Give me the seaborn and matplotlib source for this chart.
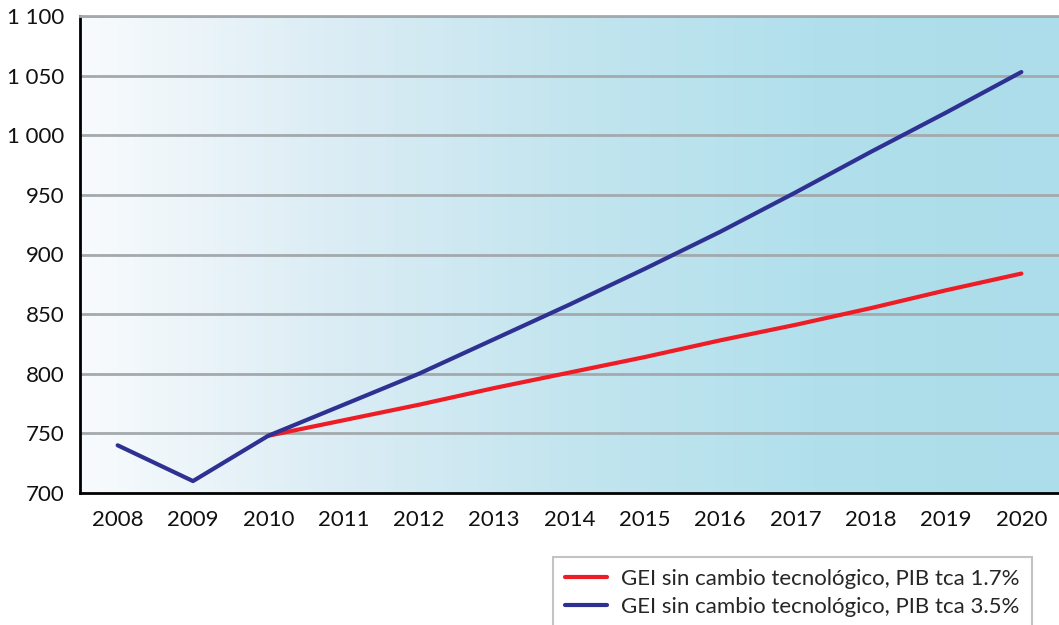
import numpy as np
import pandas as pd
import matplotlib
matplotlib.use("Agg")
import matplotlib.pyplot as plt
import seaborn as sns
from matplotlib.colors import LinearSegmentedColormap

# ─── Data ────────────────────────────────────────────────────────────────────
years = ["2008", "2009", "2010", "2011", "2012", "2013", "2014",
         "2015", "2016", "2017", "2018", "2019", "2020"]
gei_17 = [np.nan, np.nan, 748, 761, 774, 788, 801, 814, 828, 841, 855, 870, 884]
gei_35 = [740, 710, 748, 774, 800, 829, 858, 888, 919, 952, 986, 1019, 1053]
label_17 = "GEI sin cambio tecnológico, PIB tca 1.7%"
label_35 = "GEI sin cambio tecnológico, PIB tca 3.5%"
yticks = [700, 750, 800, 850, 900, 950, 1000, 1050, 1100]
ytick_labels = ["700", "750", "800", "850", "900", "950", "1 000", "1 050", "1 100"]

df = pd.DataFrame({"pos": np.arange(len(years)), "a": gei_17, "b": gei_35})

# ─── Style ───────────────────────────────────────────────────────────────────
sns.set_style("white")
plt.rcParams["font.family"] = ["Lato", "DejaVu Sans"]

fig = plt.figure(figsize=(10.59, 6.25), dpi=100)
ax = fig.add_axes([80 / 1059, 1 - 493 / 625, 1 - 80 / 1059, (493 - 16) / 625])

# gradient background, white-ish on the left to light blue on the right
cmap = LinearSegmentedColormap.from_list(
    "bg", ["#f8fbfd", "#dcedf5", "#c3e5ef", "#b1e0ec", "#addcea"])
grad = np.linspace(0, 1, 256).reshape(1, -1)
ax.imshow(grad, aspect="auto", cmap=cmap, extent=[-0.5, 12.5, 700, 1100], zorder=0)

for y in yticks[1:]:
    ax.axhline(y, color="#a3a9ad", lw=2, zorder=1)

sns.lineplot(data=df, x="pos", y="a", ax=ax, color="#ee1c25", lw=3,
             label=label_17, zorder=3)
sns.lineplot(data=df, x="pos", y="b", ax=ax, color="#2e3192", lw=3,
             label=label_35, zorder=4)

ax.set_xlim(-0.5, 12.5)
ax.set_ylim(700, 1100)
ax.set_xlabel("")
ax.set_ylabel("")

ax.set_yticks(yticks)
ax.set_yticklabels(ytick_labels, fontsize=16)
ax.set_xticks(np.arange(len(years)))
ax.set_xticklabels(years, fontsize=16)
ax.set_xticks(np.arange(len(years) + 1) - 0.5, minor=True)
ax.tick_params(axis="x", which="major", length=0, pad=12)
ax.tick_params(axis="x", which="minor", length=8, width=1.5, color="black",
               direction="out")
ax.tick_params(axis="y", length=8, width=1.5, color="black", direction="out", pad=3)
ax.tick_params(labelcolor="#111111")

ax.spines["right"].set_visible(False)
ax.spines["top"].set_color("#a3a9ad")
ax.spines["top"].set_linewidth(2)
ax.spines["left"].set_color("black")
ax.spines["left"].set_linewidth(2)
ax.spines["bottom"].set_color("black")
ax.spines["bottom"].set_linewidth(2)

ax.get_legend().remove()
handles, labels = ax.get_legend_handles_labels()
leg = fig.legend(handles, labels, loc="upper left",
                 bbox_to_anchor=(553 / 1059, 1 - 557 / 625),
                 fontsize=16, frameon=True, fancybox=False,
                 handlelength=1.9, handletextpad=0.6, borderpad=0.55,
                 labelspacing=0.35, borderaxespad=0)
leg.get_frame().set_edgecolor("#b5b5b5")
leg.get_frame().set_linewidth(1.5)

fig.savefig("out.png", dpi=100)
